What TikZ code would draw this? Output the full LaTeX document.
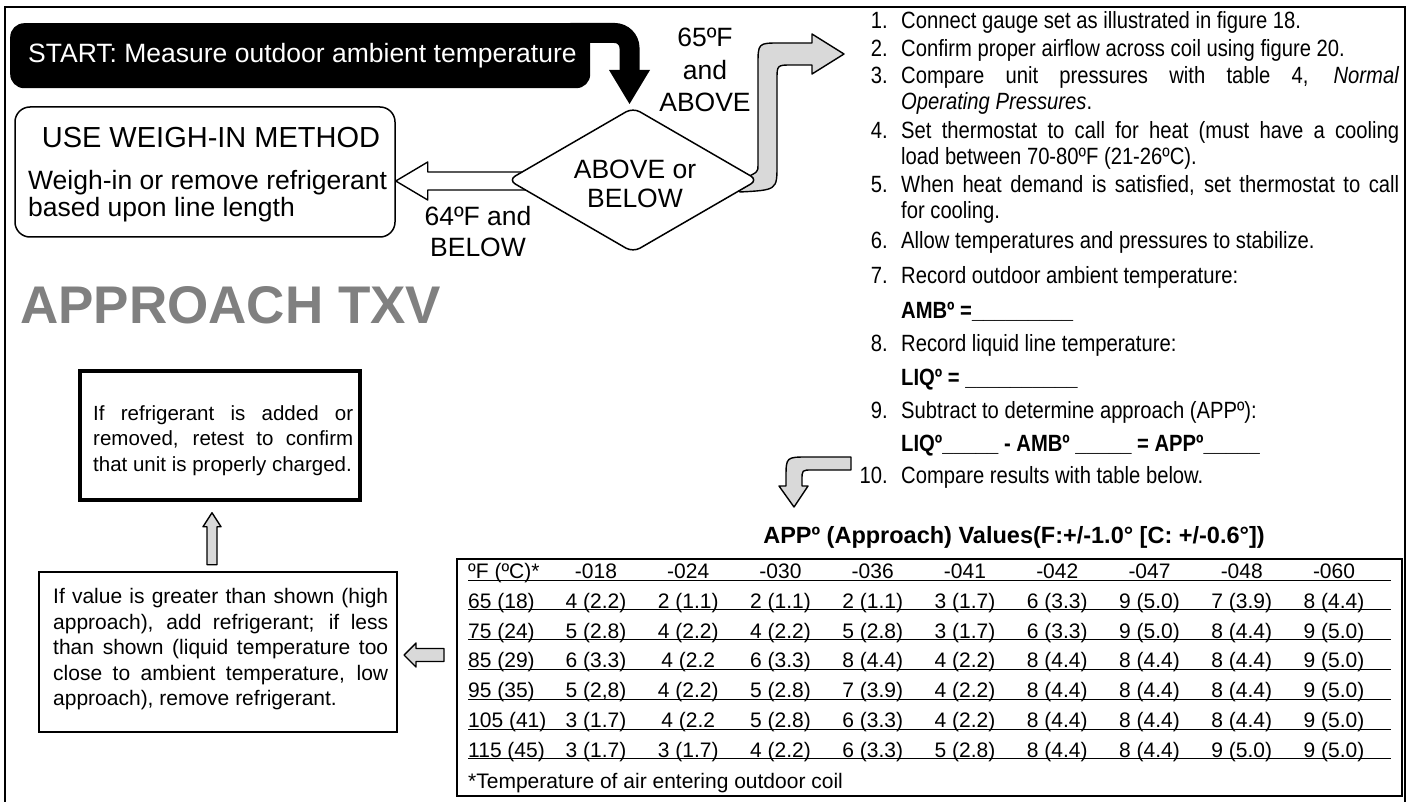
\documentclass[tikz,border=0pt]{standalone}
\usepackage{fontspec}
\setmainfont{Liberation Sans}
\newfontfamily\narrowfont[FakeStretch=0.86]{Liberation Sans}
\usetikzlibrary{shapes.geometric, backgrounds, calc}

\definecolor{arrowgray}{RGB}{217,217,217}
\definecolor{titlegray}{RGB}{128,128,128}
\newcommand{\jl}[2]{\hbox to #1pt{#2}}

\tikzset{
  flowtext/.style={font=\fontsize{26.5}{32}\selectfont, inner sep=0pt},
  listtext/.style={font=\narrowfont\fontsize{23.5}{26}\selectfont, inner sep=0pt, anchor=base west},
  listnum/.style={font=\narrowfont\fontsize{23.5}{26}\selectfont, inner sep=0pt, anchor=base east},
  boxtext/.style={font=\fontsize{21}{25.5}\selectfont, inner sep=0pt, anchor=base west},
  celltext/.style={font=\fontsize{21}{25}\selectfont, inner sep=0pt},
  blockarrow/.style={draw, line width=1.4pt, line join=round},
}

\begin{document}
\begin{tikzpicture}[x=1pt, y=-1pt]
\useasboundingbox (0,0) rectangle (1412,802);
\draw[line width=2.5pt] (5,812) -- (5,7) -- (1405,7) -- (1405,812);

% flow chart
\node[fill=black, rounded corners=14pt, minimum width=580pt, minimum height=65pt, anchor=north west] (start) at (10,23) {};
\node[flowtext, text=white, anchor=base west] (starttext) at (28,63) {START: Measure outdoor ambient temperature};
\node[diamond, draw, line width=1.5pt, fill=white, rounded corners=8pt, minimum width=250pt, minimum height=145pt, inner sep=0pt] (ask) at (633,180) {};
\node[flowtext, font=\fontsize{26.5}{29}\selectfont, align=center] (asktext) at (635,184) {ABOVE or\\BELOW};

\coordinate (starttip) at (629.5,104);
\draw[line width=20pt, rounded corners=15pt] ([xshift=-20pt, yshift=-10pt]start.north east) -| ([yshift=33pt]starttip);
\fill (starttip) -- ++(-20.5,-34) -- ++(41,0) -- cycle;

\node[flowtext, align=center, font=\fontsize{26.5}{32.5}\selectfont] (abovelabel) at (705,70) {65ºF\\and\\ABOVE};
\node[flowtext, align=center, font=\fontsize{26.5}{31}\selectfont] (belowlabel) at (478,232) {64ºF and\\BELOW};

\node[draw, line width=1.5pt, rounded corners=15pt, minimum width=380pt, minimum height=130pt] (weigh) at (205,172) {};
\node[flowtext, font=\fontsize{29}{32}\selectfont, anchor=base] (weightitle) at (211,148) {USE WEIGH-IN METHOD};
\node[flowtext, anchor=base west] (weighline1) at (28,190) {Weigh-in or remove refrigerant};
\node[flowtext, anchor=base west] (weighline2) at (28,216.5) {based upon line length};
\coordinate (belowtip) at ([yshift=-9pt]weigh.east);

\begin{scope}[on background layer]
  % white arrow: 64F and below
  \filldraw[fill=white, blockarrow] (belowtip) -- ++(32,-19) -- ++(0,10) -- ($(ask.west)+(25,-8)$) -- ($(ask.west)+(25,10)$) -- ($(belowtip)+(32,9)$) -- ++(0,10) -- cycle;
  % gray arrow: 65F and above
  \filldraw[fill=arrowgray, blockarrow] (740,192) .. controls (777,190) .. (777,165) -- (777,80) .. controls (777,65) .. (792,65) -- (812,65) -- (812,74) -- (844,54) -- (812,34) -- (812,43) -- (780,43) .. controls (758,43) .. (758,65) -- (758,165) .. controls (758,172) .. (745,178) -- (730,180) -- cycle;
\end{scope}

% check list
\node[listnum] (n1) at (888,28.5) {1.};
\node[listtext] (l1) at (901,28.5) {Connect gauge set as illustrated in figure 18.};
\node[listnum] (n2) at (888,56.5) {2.};
\node[listtext] (l2) at (901,56.5) {Confirm proper airflow across coil using figure 20.};
\node[listnum] (n3) at (888,83.5) {3.};
\node[listtext] (l3) at (901,83.5) {\jl{498}{Compare unit pressures with table 4, \textit{Normal}}};
\node[listtext] (l3b) at (901,109.5) {\textit{Operating Pressures}.};
\node[listnum] (n4) at (888,138.5) {4.};
\node[listtext] (l4) at (901,138.5) {\jl{498}{Set thermostat to call for heat (must have a cooling}};
\node[listtext] (l4b) at (901,164.5) {load between 70-80ºF (21-26ºC).};
\node[listnum] (n5) at (888,192.5) {5.};
\node[listtext] (l5) at (901,192.5) {\jl{498}{When heat demand is satisfied, set thermostat to call}};
\node[listtext] (l5b) at (901,218.5) {for cooling.};
\node[listnum] (n6) at (888,248.5) {6.};
\node[listtext] (l6) at (901,248.5) {Allow temperatures and pressures to stabilize.};
\node[listnum] (n7) at (888,283.5) {7.};
\node[listtext] (l7) at (901,283.5) {Record outdoor ambient temperature:};
\node[listtext] (l7b) at (901,318.5) {\textbf{AMBº =\_\_\_\_\_\_\_\_\_}};
\node[listnum] (n8) at (888,351.5) {8.};
\node[listtext] (l8) at (901,351.5) {Record liquid line temperature:};
\node[listtext] (l8b) at (901,385.5) {\textbf{LIQº = \_\_\_\_\_\_\_\_\_\_}};
\node[listnum] (n9) at (888,418.5) {9.};
\node[listtext] (l9) at (901,418.5) {Subtract to determine approach (APPº):};
\node[listtext] (l9b) at (901,451.5) {\textbf{LIQº\_\_\_\_\_ - AMBº \_\_\_\_\_ = APPº\_\_\_\_\_}};
\node[listnum] (n10) at (888,483.5) {10.};
\node[listtext] (l10) at (901,483.5) {Compare results with table below.};

% bent arrow down to the table
\filldraw[fill=arrowgray, blockarrow] (851,457) -- (851,470) -- (812,470) .. controls (802,470) .. (802,480) -- (802,486) -- (808,486) -- (794,507) -- (779,486) -- (786,486) -- (786,478) .. controls (786,457) .. (808,457) -- cycle;

% left column
\node[font=\bfseries\fontsize{53}{60}\selectfont, text=titlegray, anchor=base west, inner sep=0pt] (title) at (20,323.5) {APPROACH TXV};

\node[draw, line width=3.5pt, minimum width=280pt, minimum height=129pt] (fixbox) at (220,435.5) {};
\foreach \txt [count=\n from 0] in {{\jl{260}{If refrigerant is added or}}, {\jl{260}{removed, retest to confirm}}, {that unit is properly charged.}}
  \node[boxtext, font=\fontsize{20.5}{25.5}\selectfont] (fix\n) at (93,{420+25.5*\n}) {\txt};

\node[draw, line width=2pt, minimum width=358pt, minimum height=160pt] (valuebox) at (218,652) {};
\foreach \txt [count=\n from 0] in {{\jl{335}{If value is greater than shown (high}}, {\jl{335}{approach), add refrigerant; if less}}, {\jl{335}{than shown (liquid temperature too}}, {\jl{335}{close to ambient temperature, low}}, {approach), remove refrigerant.}}
  \node[boxtext] (value\n) at (53,{603.5+25.5*\n}) {\txt};

\coordinate (uptip) at ($(fixbox.south)+(-8,11)$);
\filldraw[fill=arrowgray, blockarrow] (uptip) -- ++(9,14) -- ++(-4,0) -- ++(0,38) -- ++(-10,0) -- ++(0,-38) -- ++(-4,0) -- cycle;
\coordinate (lefttip) at ($(valuebox.east)+(6,3)$);
\filldraw[fill=arrowgray, blockarrow] (lefttip) -- ++(12,-12) -- ++(0,5.5) -- ++(28,0) -- ++(0,13) -- ++(-28,0) -- ++(0,5.5) -- cycle;

% table
\node[font=\bfseries\fontsize{23.5}{28}\selectfont, anchor=base, inner sep=0pt] (tabtitle) at (1014,543.5) {APPº (Approach) Values(F:+/-1.0° [C: +/-0.6°])};
\node[draw, line width=1.8pt, minimum width=945pt, minimum height=237pt, anchor=north west, inner sep=0pt] (tab) at (456,558) {};
\foreach \k in {0,...,6}
  \draw[line width=0.9pt] (468,{580+29.8*\k}) -- (1391,{580+29.8*\k});
\foreach \row [count=\i from 0] in {
  {ºF (ºC)*,-018,-024,-030,-036,-041,-042,-047,-048,-060},
  {65 (18),4 (2.2),2 (1.1),2 (1.1),2 (1.1),3 (1.7),6 (3.3),9 (5.0),7 (3.9),8 (4.4)},
  {75 (24),5 (2.8),4 (2.2),4 (2.2),5 (2.8),3 (1.7),6 (3.3),9 (5.0),8 (4.4),9 (5.0)},
  {85 (29),6 (3.3),4 (2.2,6 (3.3),8 (4.4),4 (2.2),8 (4.4),8 (4.4),8 (4.4),9 (5.0)},
  {95 (35),{5 (2,8)},4 (2.2),5 (2.8),7 (3.9),4 (2.2),8 (4.4),8 (4.4),8 (4.4),9 (5.0)},
  {105 (41),3 (1.7),4 (2.2,5 (2.8),6 (3.3),4 (2.2),8 (4.4),8 (4.4),8 (4.4),9 (5.0)},
  {115 (45),3 (1.7),3 (1.7),4 (2.2),6 (3.3),5 (2.8),8 (4.4),8 (4.4),9 (5.0),9 (5.0)}}
{
  \foreach \cell [count=\j from 0] in \row {
    \ifnum\j=0
      \node[celltext, anchor=base west] (c\i-\j) at (468,{578.5+29.8*\i}) {\cell};
    \else
      \node[celltext, anchor=base] (c\i-\j) at ({596+92.25*(\j-1)},{578.5+29.8*\i}) {\cell};
    \fi
  }
}
\node[celltext, anchor=base west] (tabnote) at (468,788.5) {*Temperature of air entering outdoor coil};
\end{tikzpicture}
\end{document}
